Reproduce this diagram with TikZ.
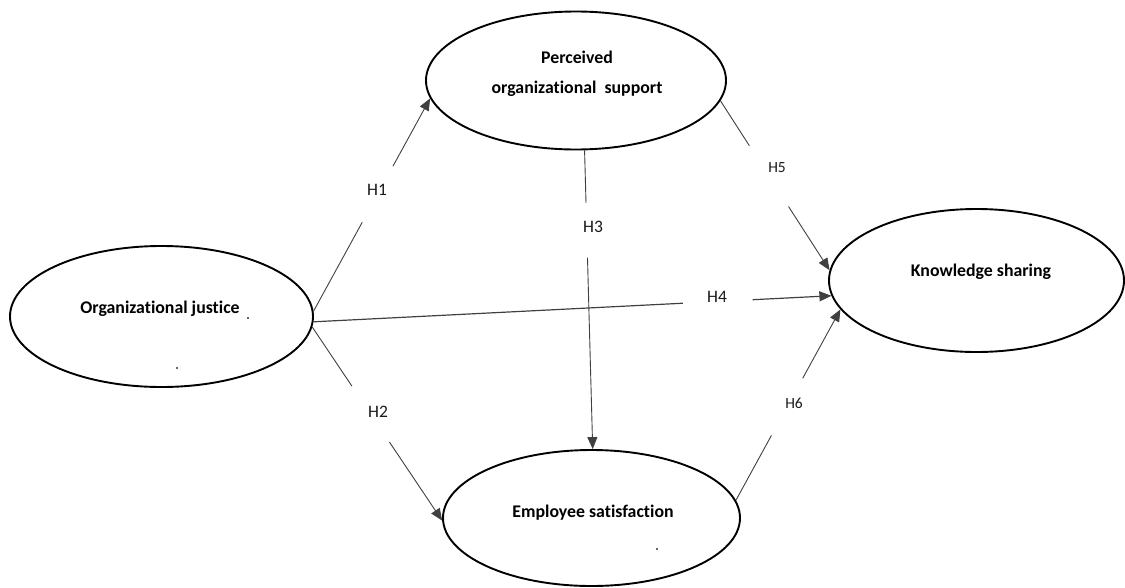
\documentclass[tikz,border=0pt]{standalone}
\usepackage{fontspec}
\setmainfont{Carlito}[Ligatures={NoCommon}]
\usetikzlibrary{shapes.geometric,arrows.meta,calc}
\begin{document}
\begin{tikzpicture}[x=1pt,y=-1pt,
  ell/.style={draw=black, line width=1.9pt, ellipse, inner sep=0pt},
  ttl/.style={font=\bfseries\fontsize{17.8}{21}\selectfont, text=black, inner sep=0pt, anchor=base},
  hl/.style={font=\fontsize{17.5}{20}\selectfont, text=black!90, inner sep=0pt},
  hs/.style={font=\fontsize{15.5}{18}\selectfont, text=black!90, inner sep=0pt},
  conn/.style={draw=black!75, line width=0.9pt},
  arr/.style={conn, -{Triangle[length=12pt,width=10pt]}},
  speck/.style={circle, fill=black!80, inner sep=0pt, minimum size=2.2pt},
]
\useasboundingbox (0,0) rectangle (1125,587);

% ellipses
\node[ell, minimum width=303pt, minimum height=141pt] (oj)  at (161.5,316.5) {};
\node[ell, minimum width=300pt, minimum height=138pt] (pos) at (576,80.5) {};
\node[ell, minimum width=295pt, minimum height=143pt] (ks)  at (976.5,280.5) {};
\node[ell, minimum width=297pt, minimum height=136pt] (es)  at (591.5,518) {};

% titles
\node[ttl] (ojt)  at (160,313) {Organizational justice};
\node[ttl] (post1) at (577,63) {Perceived};
\node[ttl] (post2) at (577,93) {organizational\ \ support};
\node[ttl] (kst)  at (981,276) {Knowledge sharing};
\node[ttl] (est)  at (593,517) {Employee satisfaction};

% stray specks
\node[speck] (s1) at (248,318) {};
\node[speck] (s2) at (177,368) {};
\node[speck] (s3) at (657,549) {};

% H1
\draw[conn] (oj.2) -- ($(oj.2)!0.418!(pos.187)$);
\draw[arr] ($(oj.2)!0.681!(pos.187)$) -- (pos.187);
\node[hl] (h1) at (377,190) {H1};

% H2
\draw[conn] (oj.-4) -- ($(oj.-4)!0.305!(es.181)$);
\draw[arr] ($(oj.-4)!0.594!(es.181)$) -- (es.181);
\node[hl] (h2) at (378,412) {H2};

% H3
\draw[conn] (pos.-83) -- ($(pos.-83)!0.176!(es.89)$);
\draw[arr] ($(pos.-83)!0.359!(es.89)$) -- (es.89);
\node[hl] (h3) at (593,227) {H3};

% H4
\draw[conn, line width=1.2pt] (oj.-2) -- ($(oj.-2)!0.713!(ks.186)$);
\draw[arr, line width=1.2pt] ($(oj.-2)!0.848!(ks.186)$) -- (ks.186);
\node[hl] (h4) at (717,297) {H4};

% H5
\draw[conn] (pos.-8) -- ($(pos.-8)!0.265!(ks.176)$);
\draw[arr] ($(pos.-8)!0.624!(ks.176)$) -- (ks.176);
\node[hs] (h5) at (777,168) {H5};

% H6
\draw[conn] (es.7) -- ($(es.7)!0.340!(ks.192)$);
\draw[arr] ($(es.7)!0.639!(ks.192)$) -- (ks.192);
\node[hs] (h6) at (794,403) {H6};
\end{tikzpicture}
\end{document}
